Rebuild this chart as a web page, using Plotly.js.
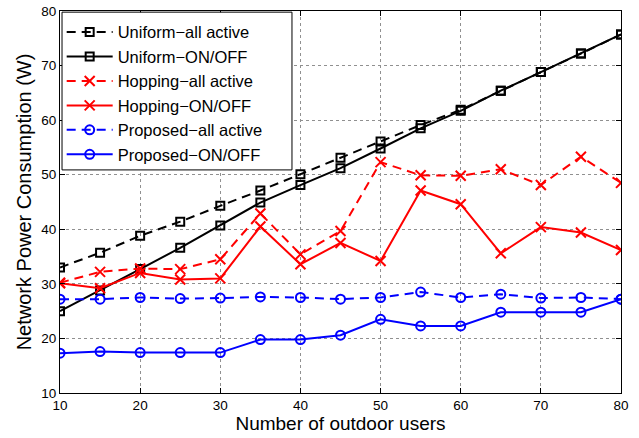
<!DOCTYPE html>
<html><head><meta charset="utf-8">
<script src="https://cdn.plot.ly/plotly-3.0.1.min.js"></script>
<style>html,body{margin:0;padding:0;background:#fff}#chart{width:639px;height:438px}</style>
</head><body><div id="chart"></div>
<script>
const users = [10,15,20,25,30,35,40,45,50,55,60,65,70,75,80];
const uniformAll = [33.0,35.7,38.8,41.4,44.3,47.1,50.1,53.1,56.1,59.1,61.9,65.4,68.8,72.2,75.7];
const uniformOnOff = [25.0,28.8,32.7,36.6,40.7,44.9,48.1,51.2,54.8,58.5,61.7,65.4,68.8,72.2,75.7];
const hoppingAll = [30.2,32.2,32.8,32.7,34.5,42.9,35.4,39.7,52.3,49.9,49.8,51.0,48.1,53.3,48.5];
const hoppingOnOff = [30.1,29.2,32.0,30.8,31.0,40.5,33.6,37.5,34.2,47.1,44.6,35.6,40.4,39.4,36.2];
const proposedAll = [27.2,27.2,27.5,27.3,27.4,27.6,27.5,27.2,27.5,28.5,27.5,28.1,27.4,27.5,27.2];
const proposedOnOff = [17.3,17.6,17.4,17.4,17.4,19.8,19.8,20.6,23.5,22.3,22.3,24.8,24.8,24.8,27.2];
const names = ['Uniform\u2212all active','Uniform\u2212ON/OFF','Hopping\u2212all active','Hopping\u2212ON/OFF','Proposed\u2212all active','Proposed\u2212ON/OFF'];
const xTicks = [10,20,30,40,50,60,70,80];
const yTicks = [10,20,30,40,50,60,70,80];

const dashPat = '9px,6px';
function tr(y, name, color, dash, symbol, size){
  return {x: users, y: y, name: name, type:'scatter', mode:'lines+markers',
    line:{color:color, width:2, dash:dash},
    marker:{symbol:symbol, size:size, color:color, line:{color:color, width:2}}};
}
const data = [
  tr(uniformAll, names[0], '#000000', dashPat, 'square-open', 8),
  tr(uniformOnOff, names[1], '#000000', 'solid', 'square-open', 8),
  tr(hoppingAll, names[2], '#ff0000', dashPat, 'x-thin-open', 10),
  tr(hoppingOnOff, names[3], '#ff0000', 'solid', 'x-thin-open', 10),
  tr(proposedAll, names[4], '#0000ff', dashPat, 'circle-open', 9),
  tr(proposedOnOff, names[5], '#0000ff', 'solid', 'circle-open', 9)
];
const axisCommon = {showline:true, linecolor:'#000', linewidth:1, mirror:'ticks', ticks:'inside', ticklen:5, tickcolor:'#000',
  showgrid:true, gridcolor:'#909090', griddash:'dot', gridwidth:1, zeroline:false,
  tickfont:{family:'Liberation Sans, Arial, sans-serif', size:13.5, color:'#000'}};
const layout = {
  width:639, height:438, paper_bgcolor:'#fff', plot_bgcolor:'#fff',
  margin:{l:60, r:18, t:11, b:45},
  font:{family:'Liberation Sans, Arial, sans-serif', color:'#000'},
  xaxis: Object.assign({}, axisCommon, {range:[10,80], tickvals:xTicks, ticktext:xTicks.map(String),
    title:{text:'Number of outdoor users', font:{size:19}, standoff:1}}),
  yaxis: Object.assign({}, axisCommon, {range:[10,80], tickvals:yTicks, ticktext:yTicks.map(String),
    title:{text:'Network Power Consumption (W)', font:{size:20}, standoff:4}}),
  legend:{x:0.003, y:0.99, xanchor:'left', yanchor:'top', bgcolor:'rgba(0,0,0,0)', borderwidth:0,
    font:{size:16.5, color:'#000'}, tracegroupgap:0, itemwidth:46},
  shapes:[{type:'rect', xref:'paper', yref:'paper', x0:0.0036, x1:0.4135, y0:0.584, y1:0.997,
    line:{color:'#000', width:1}, fillcolor:'#fff', layer:'above'}],
  showlegend:true
};
Plotly.newPlot('chart', data, layout, {displayModeBar:false, staticPlot:true});
</script>
</body></html>
